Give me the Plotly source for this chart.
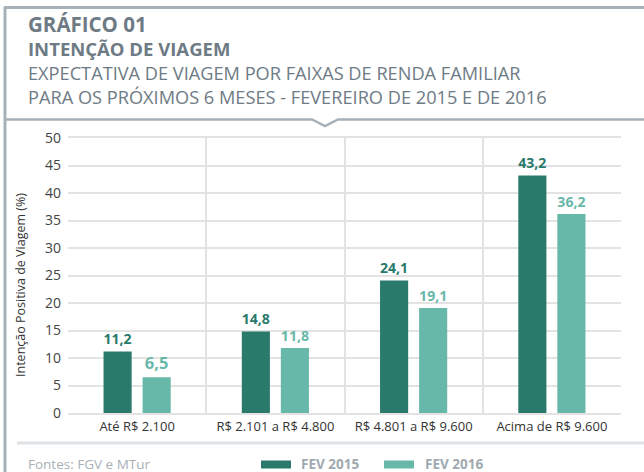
import plotly.graph_objects as go

categories = ["Até R$ 2.100", "R$ 2.101 a R$ 4.800", "R$ 4.801 a R$ 9.600", "Acima de R$ 9.600"]
series_names = ["FEV 2015", "FEV 2016"]
fev2015 = [11.2, 14.8, 24.1, 43.2]
fev2016 = [6.5, 11.8, 19.1, 36.2]
y_ticks = [0, 5, 10, 15, 20, 25, 30, 35, 40, 45, 50]
y_title = "Intenção Positiva de Viagem (%)"

DARK = "#2A7A6C"
LIGHT = "#68B8AA"
FRAME = "#A7B1B8"
HEAD = "#6E7B85"
FONT = "Open Sans"

W, H = 644, 472
L, R, T, B = 68, 23, 138, 59
PW, PH = W - L - R, H - T - B


def px(x):
    return (x - L) / PW


def py(y):
    return (H - B - y) / PH


fig = go.Figure()
for name, vals, col in [(series_names[0], fev2015, DARK), (series_names[1], fev2016, LIGHT)]:
    fig.add_trace(go.Bar(
        x=categories, y=vals, name=name, marker_color=col, marker_line_width=0,
        texttemplate="%{y:.1f}", textposition="outside", cliponaxis=False,
        textfont=dict(family=FONT, size=16.5, color=col, weight="bold"),
        showlegend=False,
    ))

fig.update_layout(
    width=W, height=H,
    margin=dict(l=L, r=R, t=T, b=B),
    paper_bgcolor="white", plot_bgcolor="white",
    barmode="group", bargap=0.435, bargroupgap=0.28,
    separators=",.",
    font=dict(family=FONT, color="#444444"),
)
fig.update_xaxes(
    type="category", tickson="boundaries", showgrid=True, gridcolor="#E3E3E3", gridwidth=2,
    ticks="", showline=True, linecolor="#E3E3E3", linewidth=2, mirror=True,
    tickfont=dict(family=FONT, size=13, color="#333333"),
)
fig.update_yaxes(
    range=[0, 50], tickvals=y_ticks, showgrid=True, gridcolor="#E3E3E3", gridwidth=2,
    zeroline=False, showline=False, ticks="", ticklabelstandoff=6,
    tickfont=dict(family=FONT, size=14, color="#444444"),
)

shapes = [
    # frame: left and top
    dict(type="line", xref="paper", yref="paper", x0=px(5), x1=px(5), y0=py(7), y1=py(H + 2), line=dict(color=FRAME, width=3)),
    dict(type="line", xref="paper", yref="paper", x0=px(4), x1=px(W + 2), y0=py(7.5), y1=py(7.5), line=dict(color=FRAME, width=3)),
    # header bottom line with chevron
    dict(type="path", xref="paper", yref="paper",
         path=f"M {px(4)},{py(119.5)} L {px(312)},{py(119.5)} L {px(325)},{py(126)} L {px(338)},{py(119.5)} L {px(W + 2)},{py(119.5)}",
         line=dict(color=FRAME, width=2.5)),
    # bottom separator
    dict(type="line", xref="paper", yref="paper", x0=px(17), x1=px(W + 2), y0=py(443), y1=py(443), line=dict(color="#DFE3E6", width=3)),
    # legend swatches
    dict(type="rect", xref="paper", yref="paper", x0=px(261), x1=px(291), y0=py(468.5), y1=py(460.5), fillcolor=DARK, line_width=0),
    dict(type="rect", xref="paper", yref="paper", x0=px(384), x1=px(414), y0=py(468.5), y1=py(460.5), fillcolor=LIGHT, line_width=0),
]

annotations = [
    dict(text="<b>GRÁFICO 01</b>", x=px(26), y=py(24), font=dict(size=20.5, color=HEAD)),
    dict(text="<b>INTENÇÃO DE VIAGEM</b>", x=px(26), y=py(48.5), font=dict(size=18.5, color=HEAD)),
    dict(text="EXPECTATIVA DE VIAGEM POR FAIXAS DE RENDA FAMILIAR", x=px(26), y=py(73), font=dict(size=18.2, color=HEAD)),
    dict(text="PARA OS PRÓXIMOS 6 MESES - FEVEREIRO DE 2015 E DE 2016", x=px(26), y=py(97), font=dict(size=18.2, color=HEAD)),
    dict(text="Fontes: FGV e MTur", x=px(26), y=py(464), font=dict(size=13.5, color="#A8B0B6")),
    dict(text=f"<b>{series_names[0]}</b>", x=px(299), y=py(464), font=dict(size=13.5, color="#A0A9B0")),
    dict(text=f"<b>{series_names[1]}</b>", x=px(423), y=py(464), font=dict(size=13.5, color="#A0A9B0")),
]
for a in annotations:
    a.update(xref="paper", yref="paper", xanchor="left", yanchor="middle", showarrow=False)
    a["font"]["family"] = FONT

annotations.append(dict(text=y_title, textangle=-90, x=px(20), y=py(285), xref="paper", yref="paper",
                        xanchor="center", yanchor="middle", showarrow=False,
                        font=dict(family=FONT, size=12.5, color="#333333")))

fig.update_layout(shapes=shapes, annotations=annotations)
fig.write_html("out.html", config={"displayModeBar": False},
               post_script="document.body.style.margin='0';document.body.style.overflow='hidden';")
